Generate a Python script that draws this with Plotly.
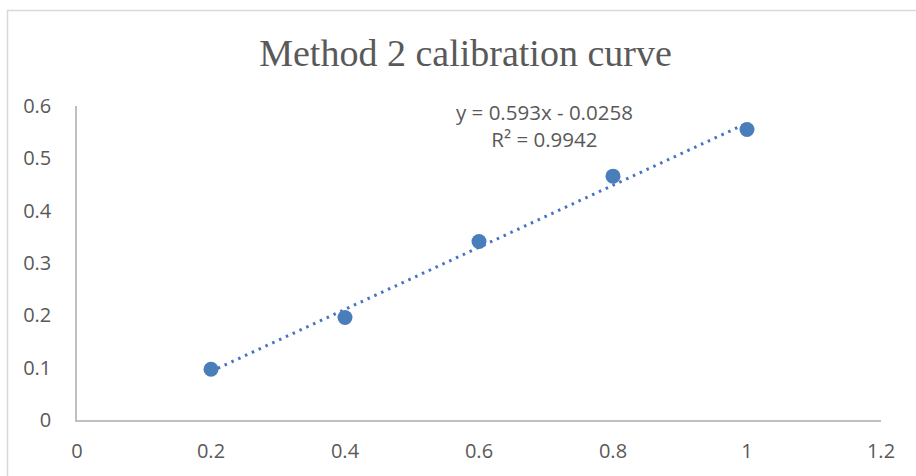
import plotly.graph_objects as go

x_vals = [0.2, 0.4, 0.6, 0.8, 1.0]
y_vals = [0.097, 0.196, 0.341, 0.466, 0.555]
slope = 0.593
intercept = -0.0258
r_squared = 0.9942
title_text = "Method 2 calibration curve"

trend_x = [min(x_vals), max(x_vals)]
trend_y = [slope * v + intercept for v in trend_x]

W, H = 916, 476
L, R, T, B = 77, 881, 106, 420
pw, ph = R - L, B - T

def px(xp):
    return (xp - L) / pw

def py(yp):
    return (B - yp) / ph

fig = go.Figure()
fig.add_trace(go.Scatter(x=trend_x, y=trend_y, mode="lines",
                         line=dict(color="#4472c4", width=3, dash="2.5px,5px"),
                         hoverinfo="skip", showlegend=False))
fig.add_trace(go.Scatter(x=x_vals, y=y_vals, mode="markers",
                         marker=dict(color="#4a7ebb", size=15),
                         showlegend=False))

tick_font = dict(family="Open Sans, Liberation Sans, sans-serif", size=20, color="#595959")

fig.update_layout(
    width=W, height=H,
    margin=dict(l=L, r=W - R, t=T, b=H - B),
    paper_bgcolor="white", plot_bgcolor="white",
    title=dict(text=title_text, x=465.5 / W, xanchor="center", y=1 - 53 / H, yanchor="middle",
               font=dict(family="Liberation Serif, Times New Roman, serif", size=38, color="#595959")),
    xaxis=dict(range=[0, 1.2], tickvals=[0, 0.2, 0.4, 0.6, 0.8, 1, 1.2],
               ticktext=["0", "0.2", "0.4", "0.6", "0.8", "1", "1.2"],
               showgrid=False, zeroline=False, showline=True, linecolor="#bfbfbf", linewidth=1.5,
               ticks="", tickfont=tick_font, ticklabelstandoff=12),
    yaxis=dict(range=[0, 0.6], tickvals=[0, 0.1, 0.2, 0.3, 0.4, 0.5, 0.6],
               ticktext=["0", "0.1", "0.2", "0.3", "0.4", "0.5", "0.6"],
               showgrid=False, zeroline=False, showline=True, linecolor="#bfbfbf", linewidth=1.5,
               ticks="", tickfont=tick_font, ticklabelstandoff=20),
)

fig.add_annotation(x=(544 - L) / pw * 1.2, y=(B - 125) / ph * 0.6, xref="x", yref="y",
                   text=f"y = {slope}x - {abs(intercept)}<br>R² = {r_squared}",
                   showarrow=False, align="center",
                   font=dict(family="Open Sans, Liberation Sans, sans-serif", size=20.5, color="#595959"))

fig.add_shape(type="rect", xref="paper", yref="paper",
              x0=px(7.5), x1=px(930), y0=py(490), y1=py(10.5),
              line=dict(color="#d9d9d9", width=1.5), fillcolor="rgba(0,0,0,0)", layer="below")

fig.write_html("out.html", config={"displayModeBar": False},
               post_script="document.body.style.margin='0';document.body.style.overflow='hidden';")
